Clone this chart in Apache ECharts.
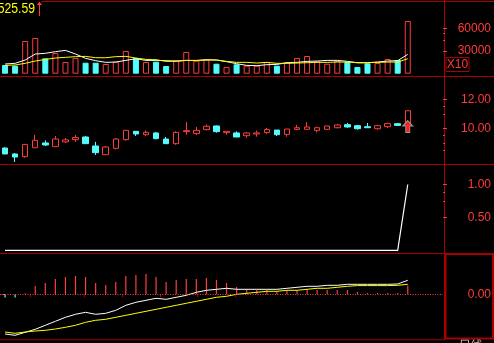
<!DOCTYPE html>
<html><head><meta charset="utf-8">
<script src="https://cdn.jsdelivr.net/npm/echarts@6/dist/echarts.min.js"></script>
<style>html,body{margin:0;padding:0;background:#000;overflow:hidden}#c{width:494px;height:343px}</style>
</head><body><div id="c"></div>
<script>
// ---- data ----
const categories = ['1','2','3','4','5','6','7','8','9','10','11','12','13','14','15','16','17','18','19','20','21','22','23','24','25','26','27','28','29','30','31','32','33','34','35','36','37','38','39','40','41','42','43','44'];
const openP  = [8.64,8.23,8.04,8.66,8.99,8.73,9.06,9.22,9.40,8.78,8.18,8.62,9.22,9.79,9.56,9.68,9.26,8.94,9.77,9.63,9.91,10.16,9.70,9.68,9.49,9.61,9.70,9.88,9.58,9.93,9.93,9.86,9.93,10.04,10.25,10.18,10.11,9.97,10.11,10.32,10.35];
const closeP = [8.23,8.02,8.89,9.17,8.85,9.26,9.20,9.36,8.94,8.32,8.71,9.26,9.86,9.61,9.72,9.29,8.94,9.72,9.84,9.86,10.14,9.77,9.79,9.40,9.68,9.68,9.91,9.56,9.95,10.04,10.09,10.04,10.16,10.23,10.09,9.97,10.04,10.18,10.32,10.20,11.21];
const lowP   = [8.23,7.68,7.97,8.66,8.78,8.73,8.99,9.06,8.94,8.16,8.18,8.53,9.15,9.47,9.47,9.24,8.94,8.87,9.56,9.54,9.86,9.70,9.56,9.40,9.35,9.42,9.61,9.47,9.42,9.88,9.93,9.72,9.88,10.00,10.04,9.91,10.04,9.91,10.02,10.16,10.30];
const highP  = [8.69,8.30,8.89,9.54,9.17,9.47,9.33,9.54,9.47,9.06,8.78,9.33,9.86,9.79,9.86,9.74,9.40,9.79,10.43,10.09,10.27,10.20,9.79,9.79,9.74,9.84,10.02,9.88,9.95,10.23,10.43,10.11,10.16,10.30,10.37,10.23,10.37,10.25,10.39,10.37,11.21];
const volume = [11500,10600,43200,47200,20300,27300,15400,20700,14500,14500,12800,15900,30000,20700,15400,15900,10200,17700,28700,17200,18500,13200,8900,12400,10600,10600,15400,10600,15400,20700,23400,16400,13200,16800,15400,8900,13700,14100,19400,18100,69600];
const volMA5 = [12800,13700,18100,26000,26900,29100,30800,26000,20300,17200,15000,15400,17600,19800,17600,17600,17200,16700,17600,17600,18500,18100,15900,13200,11000,10600,11900,12300,14500,15000,16300,16700,17600,17600,16300,14500,14500,15400,16700,17200,25500];
const volMA10 = [11000,11500,13700,16700,18900,20700,21600,22500,22900,21100,21100,22500,22900,20700,18900,18500,16300,16300,17600,17200,18100,18100,16300,15000,15000,14100,15000,13700,13700,14100,14500,15000,15000,15400,15400,14500,14500,15000,15400,15400,19800];
const signal = [0,0,0,0,0,0,0,0,0,0,0,0,0,0,0,0,0,0,0,0,0,0,0,0,0,0,0,0,0,0,0,0,0,0,0,0,0,0,0,0,1];
const macd = [-0.033,-0.033,0.01,0.083,0.113,0.153,0.173,0.183,0.173,0.113,0.093,0.123,0.183,0.193,0.203,0.173,0.123,0.143,0.153,0.153,0.163,0.143,0.113,0.073,0.053,0.043,0.043,0.027,0.037,0.043,0.053,0.043,0.043,0.043,0.043,0.023,0.013,0.013,0.013,0.013,0.087];
const dif = [-0.397,-0.41,-0.38,-0.35,-0.31,-0.27,-0.23,-0.20,-0.18,-0.20,-0.19,-0.16,-0.11,-0.08,-0.06,-0.04,-0.05,-0.03,-0.01,0.02,0.04,0.05,0.06,0.05,0.05,0.05,0.05,0.05,0.06,0.07,0.08,0.08,0.09,0.09,0.10,0.10,0.10,0.10,0.10,0.103,0.14];
const dea = [-0.377,-0.39,-0.377,-0.367,-0.36,-0.347,-0.33,-0.31,-0.28,-0.26,-0.25,-0.23,-0.21,-0.19,-0.17,-0.15,-0.13,-0.11,-0.09,-0.07,-0.05,-0.03,-0.02,0,0.01,0.02,0.03,0.03,0.04,0.04,0.05,0.06,0.06,0.07,0.08,0.087,0.087,0.087,0.087,0.09,0.10];
const volTicks = [30000, 60000];
const priceTicks = [10, 12];
const sigTicks = [0.5, 1];
const macdTicks = [0];
const headText = '5525.59';
const unitText = 'X10';
const footText = '日线';

// ---- styles ----
const RED = '#ff3c3c', CYAN = '#54fcfc', FRAME = '#a80000', YEL = '#ffff00';
const FONT = '"Liberation Sans", Arial, sans-serif';
const GL = -1.75, GW = 446;

function yPair(grid, min, max, labels, major, minor, fmt) {
  return [
    {type:'value', gridIndex:grid, position:'right', offset:0, min, max, scale:false,
     splitLine:{show:false}, axisLine:{show:false},
     axisTick:{show:true, length:4, customValues:major, lineStyle:{color:RED}},
     axisLabel:{show:true, customValues:labels, formatter:fmt, color:RED, fontSize:12, fontFamily:FONT, align:'right', margin:48}},
    {type:'value', gridIndex:grid, position:'right', offset:0, min, max,
     splitLine:{show:false}, axisLine:{show:false},
     axisTick:{show:true, length:2, customValues:minor, lineStyle:{color:RED}},
     axisLabel:{show:false}}
  ];
}
function catX(grid) {
  return {type:'category', gridIndex:grid, data:categories, boundaryGap:true, show:false};
}

const candleData = openP.map((o,i)=>[o, closeP[i], lowP[i], highP[i]]);
const volData = volume.map((v,i)=>{
  const up = closeP[i] >= openP[i];
  return {value:v, itemStyle: up ? {color:'#000', borderColor:RED, borderWidth:1} : {color:CYAN, borderColor:CYAN, borderWidth:1}};
});
const macdData = macd.map(v=>({value:v, itemStyle:{color: v>=0 ? RED : CYAN}}));

const chart = echarts.init(document.getElementById('c'), null, {renderer:'canvas'});
const option = {
  backgroundColor:'#000',
  animation:false,
  grid:[
    {left:GL, width:GW, top:1.8, height:71.9},
    {left:GL, width:GW, top:77.55, height:87},
    {left:GL, width:GW, top:164.8, height:85.5},
    {left:GL, width:GW, top:253.3, height:86.4}
  ],
  xAxis:[catX(0), catX(1), catX(2), catX(3),
    {type:'value', gridIndex:3, position:'bottom', min:GL, max:GL+GW,
     splitLine:{show:false}, axisLine:{show:false}, axisLabel:{show:false},
     axisTick:{show:true, length:3, customValues:[28.3,83.3,121.3,159.3,197.3,235.3], lineStyle:{color:FRAME}}}
  ],
  yAxis:[
    ...yPair(0, 0, 95000, volTicks, volTicks, [44000,53000], v=>String(v)),
    ...yPair(1, 7.5, 13.5, priceTicks, priceTicks, [8.5,9,9.5,11,11.5], v=>v.toFixed(2)),
    ...yPair(2, 0, 1.3, sigTicks, sigTicks, [0.75,0.89], v=>v.toFixed(2)),
    ...yPair(3, -0.454, 0.41, macdTicks, macdTicks, [], v=>v.toFixed(2))
  ],
  series:[
    {type:'bar', xAxisIndex:0, yAxisIndex:0, data:volData, barWidth:6, z:2},
    {type:'line', xAxisIndex:0, yAxisIndex:0, data:volMA5, symbol:'none', lineStyle:{color:'#fff', width:1}, z:3},
    {type:'line', xAxisIndex:0, yAxisIndex:0, data:volMA10, symbol:'none', lineStyle:{color:YEL, width:1}, z:3},
    {type:'candlestick', xAxisIndex:1, yAxisIndex:2, data:candleData, barWidth:6,
     itemStyle:{color:'#000', color0:CYAN, borderColor:RED, borderColor0:CYAN, borderWidth:1},
     markPoint:{symbol:'path://M5,0 L10,5.5 L7,5.5 L7,12 L3,12 L3,5.5 L0,5.5 Z', symbolSize:[10,12],
       label:{show:false}, itemStyle:{color:'#ff1e1e', borderColor:'#999', borderWidth:1},
       data:[{coord:[categories[40], 10.12]}]}},
    {type:'line', xAxisIndex:2, yAxisIndex:4, data:signal, symbol:'none', lineStyle:{color:'#fff', width:1.2}},
    {type:'bar', xAxisIndex:3, yAxisIndex:6, data:macdData, barWidth:1.2,
     markLine:{silent:true, symbol:'none', label:{show:false}, lineStyle:{color:RED, type:[1,1.5], width:1}, data:[{yAxis:0}]}},
    {type:'line', xAxisIndex:3, yAxisIndex:6, data:dif, symbol:'none', lineStyle:{color:'#fff', width:1}},
    {type:'line', xAxisIndex:3, yAxisIndex:6, data:dea, symbol:'none', lineStyle:{color:YEL, width:1}}
  ],
  graphic:[
    {type:'line', shape:{x1:41, y1:1.5, x2:494, y2:1.5}, style:{stroke:FRAME, lineWidth:1}},
    {type:'line', shape:{x1:0, y1:76.5, x2:494, y2:76.5}, style:{stroke:FRAME, lineWidth:1}},
    {type:'line', shape:{x1:0, y1:164.5, x2:494, y2:164.5}, style:{stroke:FRAME, lineWidth:1}},
    {type:'line', shape:{x1:0, y1:253.5, x2:494, y2:253.5}, style:{stroke:FRAME, lineWidth:1}},
    {type:'line', shape:{x1:0, y1:339.8, x2:445, y2:339.8}, style:{stroke:FRAME, lineWidth:1}},
    {type:'line', shape:{x1:444.5, y1:0, x2:444.5, y2:340}, style:{stroke:FRAME, lineWidth:1}},
    {type:'rect', shape:{x:445.5, y:254, width:47.5, height:84.5}, style:{fill:'none', stroke:FRAME, lineWidth:2}},
    {type:'rect', shape:{x:446, y:57.5, width:23, height:14}, style:{fill:'none', stroke:FRAME, lineWidth:1}},
    {type:'text', x:457.5, y:65, style:{text:unitText, fill:RED, font:'12px '+FONT, textAlign:'center', textVerticalAlign:'middle'}},
    {type:'text', x:35, y:9.5, scaleX:0.87, style:{text:headText, fill:YEL, font:'14px '+FONT, textAlign:'right', textVerticalAlign:'middle'}},
    {type:'line', shape:{x1:39.5, y1:4, x2:39.5, y2:16}, style:{stroke:RED, lineWidth:1}},
    {type:'polygon', shape:{points:[[37,5],[42,5],[39.5,1.5]]}, style:{fill:RED}},
    {type:'text', x:459, y:339.5, style:{text:footText, fill:'#c8c8c8', font:'12px '+FONT, textAlign:'left', textVerticalAlign:'top'}}
  ]
};
chart.setOption(option);
</script></body></html>
